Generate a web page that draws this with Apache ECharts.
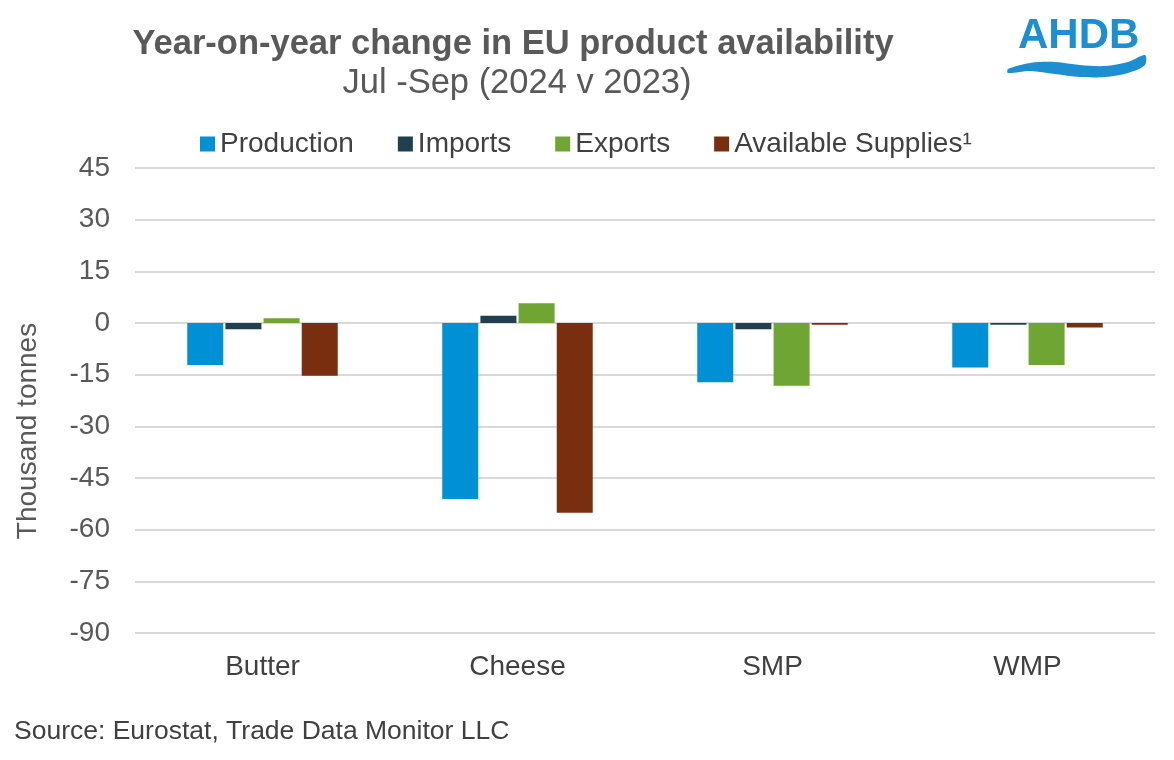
<!DOCTYPE html>
<html>
<head>
<meta charset="utf-8">
<script src="https://cdn.jsdelivr.net/npm/echarts@6/dist/echarts.min.js"></script>
<style>html,body{margin:0;padding:0;background:#fff;}#c{width:1174px;height:760px;}</style>
</head>
<body>
<div id="c"></div>
<script>
const categories = ['Butter', 'Cheese', 'SMP', 'WMP'];
const production = [-12.2, -51.1, -17.2, -12.9];
const imports = [-1.8, 2.1, -1.8, -0.5];
const exportsData = [1.4, 5.7, -18.2, -12.2];
const availableSupplies = [-15.3, -55.1, -0.5, -1.3];
const seriesNames = ['Production', 'Imports', 'Exports', 'Available Supplies\u00B9'];
const colors = ['#0090D5', '#203F4F', '#6FA532', '#7A2E10'];

const chart = echarts.init(document.getElementById('c'));
const font = 'Arial, "Liberation Sans", sans-serif';
const dataSets = [production, imports, exportsData, availableSupplies];

chart.setOption({
  animation: false,
  backgroundColor: '#ffffff',
  textStyle: { fontFamily: font },
  title: [
    { text: 'Year-on-year change in EU product availability', left: 508, top: 22, textAlign: 'center',
      textStyle: { fontFamily: font, fontSize: 34.5, fontWeight: 'bold', color: '#595959' } },
    { text: 'Jul -Sep (2024 v 2023)', left: 512, top: 61, textAlign: 'center',
      textStyle: { fontFamily: font, fontSize: 34.5, fontWeight: 'normal', color: '#595959' } }
  ],
  legend: {
    top: 125, left: 195, itemWidth: 15, itemHeight: 15, itemGap: 44,
    icon: 'rect',
    textStyle: { fontFamily: font, fontSize: 28, color: '#404040' },
    data: seriesNames
  },
  grid: { left: 135, right: 19, top: 168, bottom: 127, containLabel: false },
  xAxis: {
    type: 'category', data: categories,
    axisLine: { show: false }, axisTick: { show: false },
    axisLabel: { fontFamily: font, fontSize: 28, color: '#404040', margin: 20 }
  },
  yAxis: {
    type: 'value', min: -90, max: 45, interval: 15,
    axisLine: { show: false }, axisTick: { show: false },
    axisLabel: { fontFamily: font, fontSize: 28, color: '#595959', margin: 25 },
    splitLine: { lineStyle: { color: '#d9d9d9', width: 2 } }
  },
  series: seriesNames.map((n, i) => ({
    name: n, type: 'bar', data: dataSets[i], barWidth: 36, barGap: '6%',
    itemStyle: { color: colors[i] }
  })),
  graphic: [
    { type: 'text', x: 28, y: 431, rotation: Math.PI / 2,
      style: { text: 'Thousand tonnes', fontFamily: font, fontSize: 28, fill: '#595959', align: 'center', verticalAlign: 'middle' } },
    { type: 'text', x: 14, y: 718,
      style: { text: 'Source: Eurostat, Trade Data Monitor LLC', fontFamily: font, fontSize: 26.5, fill: '#404040' } },
    { type: 'text', x: 1018, y: 15,
      style: { text: 'AHDB', fontFamily: font, fontSize: 42, fontWeight: 'bold', fill: '#1C8FD2' } },
    { type: 'polygon', shape: { points: [[1008,69],[1030,63],[1055,62],[1080,65],[1105,66],[1128,62],[1145,55],[1145,65],[1128,73],[1105,77],[1080,77],[1055,74],[1030,71],[1008,73]], smooth: 0.3 },
      style: { fill: '#1C8FD2' } }
  ]
});
</script>
</body>
</html>
